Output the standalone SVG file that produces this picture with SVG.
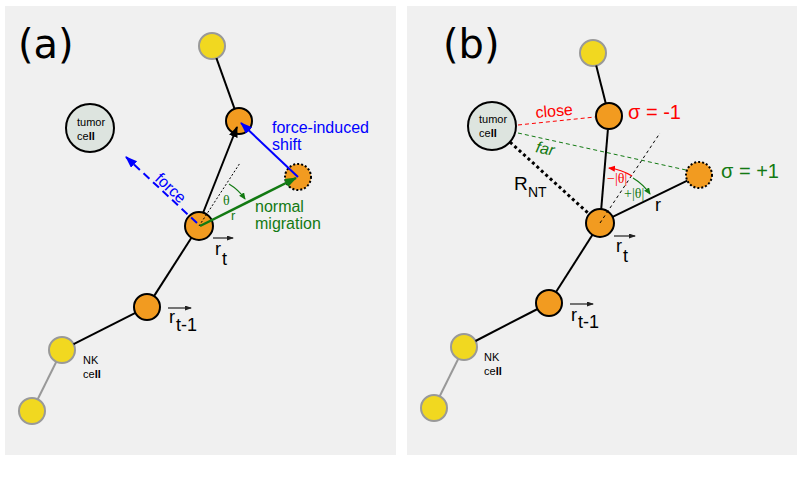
<svg xmlns="http://www.w3.org/2000/svg" width="803" height="504" viewBox="0 0 803 504">
<defs>
<style>
.panel{fill:#f0f0f0}
.orange{fill:#f29b20;stroke:#000;stroke-width:2}
.ghost{fill:#f29b20;stroke:#000;stroke-width:2;stroke-dasharray:2,2}
.yellow{fill:#f1d820;stroke:#999;stroke-width:2}
.tumor{fill:#dde4df;stroke:#000;stroke-width:2}
.chain{stroke:#000;stroke-width:2;fill:none}
.gchain{stroke:#999;stroke-width:2;fill:none}
.t{font-family:"Liberation Sans",Arial,sans-serif}
.lab{font-family:"DejaVu Sans",sans-serif;font-size:40px;fill:#000}
.small{font-family:"Liberation Sans",Arial,sans-serif;font-size:11px;fill:#000}
.vec{font-family:"Liberation Sans",Arial,sans-serif;font-size:18px;fill:#000}
.vl{stroke:#222;stroke-width:1.2}
.th{font-family:"Liberation Serif","Times New Roman",serif}
</style>
<marker id="ak" markerUnits="userSpaceOnUse" markerWidth="12" markerHeight="10" refX="10" refY="4.5" orient="auto"><path d="M0,0 L11,4.5 L0,9 z" fill="#000"/></marker>
<marker id="ab" markerUnits="userSpaceOnUse" markerWidth="14" markerHeight="10" refX="11" refY="4.5" orient="auto"><path d="M0,0 L12,4.5 L0,9 z" fill="#0000ff"/></marker>
<marker id="ag" markerUnits="userSpaceOnUse" markerWidth="14" markerHeight="10" refX="11" refY="4.5" orient="auto"><path d="M0,0 L12,4.5 L0,9 z" fill="#137a13"/></marker>
<marker id="ags" markerUnits="userSpaceOnUse" markerWidth="8" markerHeight="7" refX="6" refY="3" orient="auto"><path d="M0,0 L7,3 L0,6 z" fill="#137a13"/></marker>
<marker id="ars" markerUnits="userSpaceOnUse" markerWidth="8" markerHeight="7" refX="6" refY="3" orient="auto"><path d="M0,0 L7,3 L0,6 z" fill="#ff0000"/></marker>
<marker id="av" markerUnits="userSpaceOnUse" markerWidth="8" markerHeight="6" refX="6" refY="2.5" orient="auto"><path d="M0,0 L7,2.5 L0,5 z" fill="#222"/></marker>
</defs>

<rect class="panel" x="5" y="6" width="391" height="449"/>
<rect class="panel" x="407" y="6" width="390" height="449"/>
<text class="lab" x="18" y="58">(a)</text>
<text class="lab" x="443" y="58">(b)</text>

<!-- Panel (a) nodes -->
<g id="a-yellow-top"><circle class="yellow" cx="212" cy="46" r="13"/></g>
<g id="a-orange-top"><circle class="orange" cx="239" cy="121" r="13"/></g>
<g id="a-tumor"><circle class="tumor" cx="90" cy="128" r="24"/>
<text class="small" x="77" y="126">tumor</text><text class="small" x="77" y="140">ce<tspan font-weight="bold">ll</tspan></text></g>
<g id="a-ghost"><circle class="ghost" cx="298" cy="177" r="13"/></g>
<g id="a-orange-main"><circle class="orange" cx="199" cy="226" r="14"/></g>
<g id="a-orange-low"><circle class="orange" cx="147" cy="307" r="13"/></g>
<g id="a-nk"><circle class="yellow" cx="62" cy="350" r="13"/>
<text class="small" x="83" y="364">NK</text><text class="small" x="83" y="378">ce<tspan font-weight="bold">ll</tspan></text></g>
<g id="a-yellow-bottom"><circle class="yellow" cx="32" cy="411" r="13"/></g>

<!-- Panel (b) nodes -->
<g id="b-yellow-top"><circle class="yellow" cx="593" cy="53" r="13"/></g>
<g id="b-orange-top"><circle class="orange" cx="609" cy="116" r="13"/></g>
<g id="b-tumor"><circle class="tumor" cx="492" cy="126" r="24"/>
<text class="small" x="479" y="123">tumor</text><text class="small" x="479" y="137">ce<tspan font-weight="bold">ll</tspan></text></g>
<g id="b-ghost"><circle class="ghost" cx="699" cy="175" r="13"/></g>
<g id="b-orange-main"><circle class="orange" cx="600" cy="223" r="14"/></g>
<g id="b-orange-low"><circle class="orange" cx="549" cy="303" r="13"/></g>
<g id="b-nk"><circle class="yellow" cx="464" cy="347" r="13"/>
<text class="small" x="484" y="361">NK</text><text class="small" x="484" y="375">ce<tspan font-weight="bold">ll</tspan></text></g>
<g id="b-yellow-bottom"><circle class="yellow" cx="434" cy="408" r="13"/></g>

<!-- Connectors -->
<g id="connectors">
<!-- panel a -->
<line class="chain" x1="216.4" y1="58.2" x2="234.6" y2="108.8"/>
<line class="chain" x1="191.4" y1="237.8" x2="154" y2="296.1"/>
<line class="chain" x1="135.4" y1="312.9" x2="73.6" y2="344.1"/>
<line class="gchain" x1="56.3" y1="361.7" x2="37.7" y2="399.3"/>
<line class="chain" x1="203" y1="213" x2="237" y2="127" marker-end="url(#ak)"/>
<line x1="199" y1="226" x2="240" y2="163" stroke="#000" stroke-width="1" stroke-dasharray="2,2"/>
<line x1="298" y1="177" x2="241" y2="123" stroke="#0000ff" stroke-width="2" marker-end="url(#ab)"/>
<line x1="200" y1="226" x2="296" y2="178" stroke="#137a13" stroke-width="2.5" marker-end="url(#ag)"/>
<line x1="197" y1="223" x2="126" y2="157" stroke="#0000ff" stroke-width="2" stroke-dasharray="8,5" marker-end="url(#ab)"/>
<path d="M229,184 A52,52 0 0,1 245,199" fill="none" stroke="#137a13" stroke-width="1.2" marker-end="url(#ags)"/>
<line class="vl" x1="213" y1="238" x2="233" y2="238" marker-end="url(#av)"/>
<line class="vl" x1="168" y1="308" x2="191" y2="308" marker-end="url(#av)"/>
<!-- panel b -->
<line class="chain" x1="596.2" y1="65.6" x2="605.8" y2="103.4"/>
<line class="chain" x1="607.9" y1="129.5" x2="601.2" y2="209.1"/>
<line class="chain" x1="612.6" y1="216.9" x2="687.3" y2="180.7"/>
<line class="chain" x1="592.5" y1="234.8" x2="556" y2="292"/>
<line class="chain" x1="537.5" y1="309" x2="475.5" y2="341"/>
<line class="gchain" x1="458.3" y1="358.7" x2="439.7" y2="396.3"/>
<line x1="510" y1="142" x2="588" y2="213" stroke="#000" stroke-width="3" stroke-dasharray="3,3"/>
<line x1="518" y1="125" x2="595" y2="117" stroke="#ff0000" stroke-width="1" stroke-dasharray="4,3"/>
<line x1="518" y1="133" x2="686" y2="170" stroke="#137a13" stroke-width="1" stroke-dasharray="4,3"/>
<line x1="600" y1="223" x2="660" y2="133" stroke="#000" stroke-width="1" stroke-dasharray="3,3"/>
<path d="M632,176 A56,56 0 0,0 609,168" fill="none" stroke="#ff0000" stroke-width="1.2" marker-end="url(#ars)"/>
<path d="M633,178 A56,56 0 0,1 650,194" fill="none" stroke="#137a13" stroke-width="1.2" marker-end="url(#ags)"/>
<line class="vl" x1="614" y1="236" x2="635" y2="236" marker-end="url(#av)"/>
<line class="vl" x1="570" y1="304" x2="593" y2="304" marker-end="url(#av)"/>
</g>

<!-- Labels panel a -->
<g id="a-labels">
<text class="t" x="272" y="133" font-size="16" fill="#0000ff">force-induced</text>
<text class="t" x="272" y="150" font-size="16" fill="#0000ff">shift</text>
<text class="t" x="255" y="212" font-size="16" fill="#137a13">normal</text>
<text class="t" x="255" y="229" font-size="16" fill="#137a13">migration</text>
<text class="t" font-size="16" fill="#0000ff" text-anchor="middle" transform="translate(167,192) rotate(43.5)">force</text>
<text class="th" x="223" y="205" font-size="14" fill="#137a13">θ</text>
<text class="t" x="231" y="220" font-size="13" fill="#137a13">r</text>
<text class="vec" x="215" y="255">r</text><text class="vec" x="222" y="265">t</text>
<text class="vec" x="169" y="323">r</text><text class="vec" x="176" y="331">t-1</text>
</g>

<!-- Labels panel b -->
<g id="b-labels">
<text class="t" font-size="16" fill="#ff0000" transform="translate(536,118) rotate(-5)">close</text>
<text class="t" font-size="16" fill="#137a13" font-style="italic" transform="translate(535,152) rotate(12)">far</text>
<text class="t" x="628" y="119" font-size="20" fill="#ff0000">σ = -1</text>
<text class="t" x="721" y="178" font-size="20" fill="#137a13">σ = +1</text>
<text class="t" x="514" y="190" font-size="19" fill="#000">R</text><text class="t" x="528" y="197" font-size="14" fill="#000">NT</text>
<text class="t" x="655" y="211" font-size="18" fill="#000">r</text>
<text class="th" x="607" y="183" font-size="14" fill="#ff0000">−|θ|</text>
<text class="th" x="624" y="198" font-size="14" fill="#137a13">+|θ|</text>
<text class="vec" x="616" y="252">r</text><text class="vec" x="623" y="262">t</text>
<text class="vec" x="571" y="321">r</text><text class="vec" x="578" y="328">t-1</text>
</g>
</svg>
